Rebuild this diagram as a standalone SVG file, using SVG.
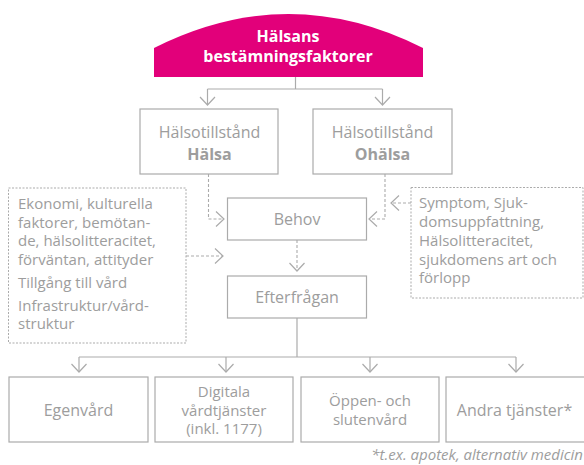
<svg xmlns="http://www.w3.org/2000/svg" width="584" height="465" viewBox="0 0 584 465">
<style>
  .box { fill: #fff; stroke: #ababab; stroke-width: 1.2; }
  .dbox { fill: none; stroke: #ababab; stroke-width: 1; stroke-dasharray: 2 1.5; }
  .t { font-family: "Open Sans", "Noto Sans", sans-serif; font-size: 16px; fill: #9d9d9d; }
  .s { font-size: 15px; }
  .c { text-anchor: middle; }
  .b { font-weight: bold; }
  .w { fill: #ffffff; font-weight: bold; }
  .ln { fill: none; stroke: #ababab; stroke-width: 1.2; }
  .dl { fill: none; stroke: #ababab; stroke-width: 1.1; stroke-dasharray: 3 2; }
  .fn { font-style: italic; font-size: 15px; text-anchor: end; }
</style>
<defs>
  <marker id="ah" markerUnits="userSpaceOnUse" markerWidth="20" markerHeight="20" viewBox="-10 -10 20 20" refX="0" refY="0" orient="auto" overflow="visible">
    <path d="M-8,-7.5 L0,0 L-8,7.5" fill="none" stroke="#ababab" stroke-width="1.2"/>
  </marker>
</defs>
<rect width="584" height="465" fill="#ffffff"/>

<g id="connectors">
  <path class="ln" d="M295.5,77 V89"/>
  <path class="ln" d="M207.5,89 H382.5"/>
  <path class="ln" d="M207.5,89 V105" marker-end="url(#ah)"/>
  <path class="ln" d="M382.5,89 V105" marker-end="url(#ah)"/>
  <path class="dl" d="M208.5,174 V219 H224" marker-end="url(#ah)"/>
  <path class="dl" d="M385,174 V219 H369" marker-end="url(#ah)"/>
  <path class="dl" d="M411,203 H391" marker-end="url(#ah)"/>
  <path class="dl" d="M186,256 H223" marker-end="url(#ah)"/>
  <path class="dl" d="M297,240 V271" marker-end="url(#ah)"/>
  <path class="ln" d="M297,318 V357"/>
  <path class="ln" d="M79,357 H516"/>
  <path class="ln" d="M79,357 V372" marker-end="url(#ah)"/>
  <path class="ln" d="M226,357 V372" marker-end="url(#ah)"/>
  <path class="ln" d="M370,357 V372" marker-end="url(#ah)"/>
  <path class="ln" d="M516,357 V372" marker-end="url(#ah)"/>
</g>

<g id="halsans">
  <path d="M154,77 L154,48 Q288.5,-20 423,48 L423,77 Z" fill="#e2007a"/>
  <text class="t w c" x="288" y="41.5">Hälsans</text>
  <text class="t w c" x="288" y="61.5">bestämningsfaktorer</text>
</g>

<g id="halsa">
  <rect class="box" x="140" y="109" width="138" height="65"/>
  <text class="t c" x="209.5" y="138">Hälsotillstånd</text>
  <text class="t b c" x="209.5" y="159.5">Hälsa</text>
</g>

<g id="ohalsa">
  <rect class="box" x="313" y="109" width="139" height="65"/>
  <text class="t c" x="382.5" y="138">Hälsotillstånd</text>
  <text class="t b c" x="382.5" y="159.5">Ohälsa</text>
</g>

<g id="behov">
  <rect class="box" x="227.5" y="198" width="139" height="42"/>
  <text class="t c" x="297" y="225">Behov</text>
</g>

<g id="efterfragan">
  <rect class="box" x="227.5" y="276" width="139" height="42"/>
  <text class="t c" x="297" y="302.5">Efterfrågan</text>
</g>

<g id="faktorer-vanster">
  <rect class="dbox" x="8.5" y="188" width="177.5" height="155"/>
  <text class="t s" x="18" y="209">Ekonomi, kulturella</text>
  <text class="t s" x="18" y="227.5">faktorer, bemötan-</text>
  <text class="t s" x="18" y="246">de, hälsolitteracitet,</text>
  <text class="t s" x="18" y="264.5">förväntan, attityder</text>
  <text class="t s" x="18" y="287.5">Tillgång till vård</text>
  <text class="t s" x="18" y="310.5">Infrastruktur/vård-</text>
  <text class="t s" x="18" y="329">struktur</text>
</g>

<g id="faktorer-hoger">
  <rect class="dbox" x="411" y="187.5" width="172" height="110.5"/>
  <text class="t s" x="419" y="207.5">Symptom, Sjuk-</text>
  <text class="t s" x="419" y="226.5">domsuppfattning,</text>
  <text class="t s" x="419" y="245.5">Hälsolitteracitet,</text>
  <text class="t s" x="419" y="264.5">sjukdomens art och</text>
  <text class="t s" x="419" y="283">förlopp</text>
</g>

<g id="egenvard">
  <rect class="box" x="9" y="377" width="139" height="65"/>
  <text class="t c" x="78.5" y="416">Egenvård</text>
</g>

<g id="digitala">
  <rect class="box" x="155" y="377" width="138" height="65"/>
  <text class="t s c" x="224" y="397">Digitala</text>
  <text class="t s c" x="224" y="415.5">vårdtjänster</text>
  <text class="t s c" x="224" y="434">(inkl. 1177)</text>
</g>

<g id="oppen">
  <rect class="box" x="301" y="377" width="138" height="65"/>
  <text class="t s c" x="370" y="406">Öppen- och</text>
  <text class="t s c" x="370" y="425">slutenvård</text>
</g>

<g id="andra">
  <rect class="box" x="446" y="377" width="140" height="65"/>
  <text class="t c" x="514.5" y="416">Andra tjänster*</text>
</g>

<text class="t fn" x="583" y="460">*t.ex. apotek, alternativ medicin</text>
</svg>
